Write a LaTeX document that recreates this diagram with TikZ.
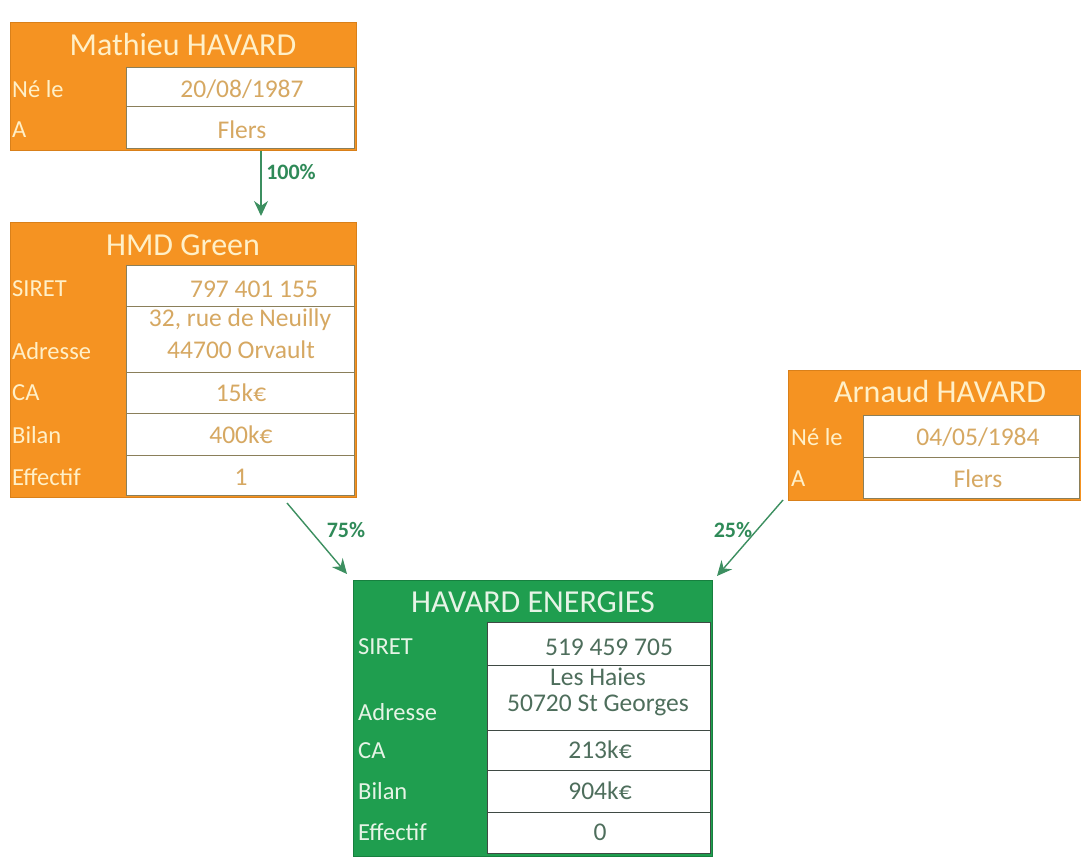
\documentclass[tikz,border=0pt]{standalone}
\usepackage{fontspec}
\setmainfont{Carlito}
\usetikzlibrary{arrows.meta}
\definecolor{orgc}{HTML}{F59322}
\definecolor{orgdark}{HTML}{D9801A}
\definecolor{grnc}{HTML}{1F9E4F}
\definecolor{grndark}{HTML}{17803F}
\definecolor{cream}{HTML}{FFF0C8}
\definecolor{tanval}{HTML}{D6A862}
\definecolor{grnval}{HTML}{4E6E5C}
\definecolor{grnlab}{HTML}{E6F4E6}
\definecolor{osep}{HTML}{8A7F5A}
\definecolor{gsep}{HTML}{3F4A44}
\definecolor{arrowc}{HTML}{3C8F60}
\definecolor{arrowtxt}{HTML}{2F8A58}
\tikzset{
  frame/.style={anchor=north west, inner sep=0pt, outer sep=0pt},
  obox/.style={frame, fill=orgc, draw=orgdark, line width=0.8pt},
  gbox/.style={frame, fill=grnc, draw=grndark, line width=0.8pt},
  owcol/.style={frame, fill=white, draw=osep, line width=0.8pt},
  gwcol/.style={frame, fill=white, draw=gsep, line width=0.8pt},
  osepl/.style={draw=osep, line width=1pt},
  gsepl/.style={draw=gsep, line width=1pt},
  ttl/.style={inner sep=0pt, font=\fontsize{32}{36}\selectfont, text=cream},
  gttl/.style={inner sep=0pt, font=\fontsize{32}{36}\selectfont, text=grnlab},
  olab/.style={anchor=west, inner sep=0pt, font=\fontsize{24.5}{28}\selectfont, text=cream},
  glab/.style={anchor=west, inner sep=0pt, font=\fontsize{24.5}{28}\selectfont, text=grnlab},
  oval/.style={inner sep=0pt, font=\fontsize{25.5}{29}\selectfont, text=tanval},
  gval/.style={inner sep=0pt, font=\fontsize{25.5}{29}\selectfont, text=grnval},
  pct/.style={inner sep=0pt, font=\bfseries\fontsize{22}{26}\selectfont, text=arrowtxt},
  conn/.style={draw=arrowc, line width=1.4pt, -{Stealth[length=15pt, width=14pt, inset=5pt]}}
}
\begin{document}
\begin{tikzpicture}[x=1pt, y=-1pt]
\useasboundingbox (0,0) rectangle (1081,858);
\fill[white] (0,0) rectangle (1081,858);

% ---------- Mathieu HAVARD ----------
\node[obox, minimum width=346pt, minimum height=128pt] (m1) at (10,22) {};
\node[owcol, minimum width=228pt, minimum height=81pt] (m1w) at (126,67) {};
\draw[osepl] (126,107) -- (354,107);
\node[ttl] (m1t) at (183,45) {Mathieu HAVARD};
\node[olab] (m1l1) at (12,89) {Né le};
\node[olab] (m1l2) at (12,130) {A};
\node[oval] (m1v1) at (242,89) {20/08/1987};
\node[oval] (m1v2) at (242,130) {Flers};

% ---------- HMD Green ----------
\node[obox, minimum width=346pt, minimum height=275pt] (m2) at (10,222) {};
\node[owcol, minimum width=228pt, minimum height=230pt] (m2w) at (126,265) {};
\draw[osepl] (126,307) -- (354,307);
\draw[osepl] (126,372) -- (354,372);
\draw[osepl] (126,413) -- (354,413);
\draw[osepl] (126,455) -- (354,455);
\node[ttl] (m2t) at (183,245) {HMD Green};
\node[olab] (m2l1) at (12,289) {SIRET};
\node[olab] (m2l2) at (12,351) {Adresse};
\node[olab] (m2l3) at (12,393) {CA};
\node[olab] (m2l4) at (12,435) {Bilan};
\node[olab] (m2l5) at (12,477) {Effectif};
\node[oval] (m2v1) at (254,289) {797 401 155};
\node[oval] (m2v2) at (240,320) {32, rue de Neuilly};
\node[oval] (m2v3) at (241,350) {44700 Orvault};
\node[oval] (m2v4) at (241,393) {15k€};
\node[oval] (m2v5) at (241,435) {400k€};
\node[oval] (m2v6) at (241,477) {1};

% ---------- Arnaud HAVARD ----------
\node[obox, minimum width=293pt, minimum height=130pt] (m3) at (788,370) {};
\node[owcol, minimum width=216pt, minimum height=83pt] (m3w) at (863,415) {};
\draw[osepl] (863,457) -- (1079,457);
\node[ttl] (m3t) at (940,392) {Arnaud HAVARD};
\node[olab] (m3l1) at (791,437) {Né le};
\node[olab] (m3l2) at (791,479) {A};
\node[oval] (m3v1) at (978,437) {04/05/1984};
\node[oval] (m3v2) at (978,479) {Flers};

% ---------- HAVARD ENERGIES ----------
\node[gbox, minimum width=359pt, minimum height=276pt] (m4) at (353,580) {};
\node[gwcol, minimum width=223pt, minimum height=231pt] (m4w) at (487,622) {};
\draw[gsepl] (487,665) -- (710,665);
\draw[gsepl] (487,730) -- (710,730);
\draw[gsepl] (487,770) -- (710,770);
\draw[gsepl] (487,812) -- (710,812);
\node[gttl] (m4t) at (533,602) {HAVARD ENERGIES};
\node[glab] (m4l1) at (358,647) {SIRET};
\node[glab] (m4l2) at (358,712) {Adresse};
\node[glab] (m4l3) at (358,751) {CA};
\node[glab] (m4l4) at (358,791) {Bilan};
\node[glab] (m4l5) at (358,832) {Effectif};
\node[gval] (m4v1) at (609,647) {519 459 705};
\node[gval] (m4v2) at (598,677) {Les Haies};
\node[gval] (m4v3) at (598,705) {50720 St Georges};
\node[gval] (m4v4) at (600,750) {213k€};
\node[gval] (m4v5) at (600,791) {904k€};
\node[gval] (m4v6) at (600,832) {0};

% ---------- connectors ----------
\coordinate (a1s) at (261,151);
\coordinate (a1e) at (261,216);
\coordinate (a2s) at (287,503);
\coordinate (a2e) at (347,574);
\coordinate (a3s) at (783,500);
\coordinate (a3e) at (717,576);
\draw[conn] (a1s) -- (a1e);
\draw[conn] (a2s) -- (a2e);
\draw[conn] (a3s) -- (a3e);
\node[pct] (p1) at (291,172) {100\%};
\node[pct] (p2) at (346,530) {75\%};
\node[pct] (p3) at (733,530) {25\%};
\end{tikzpicture}
\end{document}
